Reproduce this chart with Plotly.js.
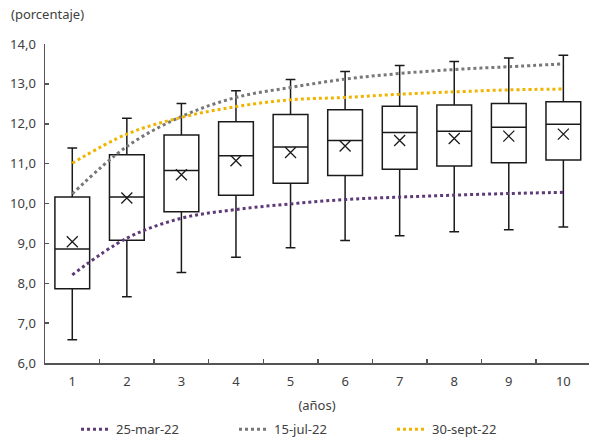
<!DOCTYPE html>
<html>
<head>
<meta charset="utf-8">
<script src="https://cdn.plot.ly/plotly-3.0.1.min.js"></script>
<style>html,body{margin:0;padding:0;background:#fff;}#chart{width:589px;height:439px;}</style>
</head>
<body>
<div id="chart"></div>
<script>
const years = ['1','2','3','4','5','6','7','8','9','10'];
const lowerWhisker = [6.58, 7.66, 8.27, 8.65, 8.89, 9.07, 9.19, 9.29, 9.34, 9.41];
const q1 = [7.86, 9.08, 9.79, 10.21, 10.51, 10.70, 10.86, 10.94, 11.02, 11.09];
const median = [8.86, 10.16, 10.83, 11.20, 11.42, 11.58, 11.78, 11.81, 11.91, 11.99];
const q3 = [10.16, 11.22, 11.72, 12.05, 12.23, 12.35, 12.44, 12.47, 12.51, 12.55];
const upperWhisker = [11.39, 12.14, 12.51, 12.83, 13.11, 13.31, 13.46, 13.56, 13.65, 13.72];
const mean = [9.04, 10.14, 10.72, 11.07, 11.28, 11.44, 11.58, 11.63, 11.69, 11.74];
const curveMar = [8.21, 9.13, 9.63, 9.85, 9.99, 10.10, 10.16, 10.21, 10.25, 10.28];
const curveJul = [10.24, 11.43, 12.18, 12.66, 12.91, 13.12, 13.26, 13.36, 13.43, 13.50];
const curveSep = [11.01, 11.74, 12.16, 12.43, 12.60, 12.66, 12.74, 12.80, 12.85, 12.87];
const curveNames = ['25-mar-22', '15-jul-22', '30-sept-22'];

const txt = '#404040';
const font = {family: 'Noto Sans, sans-serif', size: 13, color: txt};

const traces = [
  {
    type: 'box', x: years, q1: q1, median: median, q3: q3,
    lowerfence: lowerWhisker, upperfence: upperWhisker,
    fillcolor: '#ffffff', line: {color: '#1a1a1a', width: 1.5},
    whiskerwidth: 0.28, showlegend: false, hoverinfo: 'skip'
  },
  {
    type: 'scatter', mode: 'markers', x: years, y: mean, showlegend: false,
    marker: {symbol: 'x-thin-open', size: 11, color: '#1a1a1a', line: {color: '#1a1a1a', width: 1.3}}
  },
  {
    type: 'scatter', mode: 'lines', x: years, y: curveMar, name: curveNames[0],
    line: {color: '#5e3a78', width: 3, dash: 'dot', shape: 'spline'}
  },
  {
    type: 'scatter', mode: 'lines', x: years, y: curveJul, name: curveNames[1],
    line: {color: '#787878', width: 3, dash: 'dot', shape: 'spline'}
  },
  {
    type: 'scatter', mode: 'lines', x: years, y: curveSep, name: curveNames[2],
    line: {color: '#f0b400', width: 3, dash: 'dot', shape: 'spline'}
  }
];

const layout = {
  width: 589, height: 439,
  margin: {l: 45, r: 0, t: 44, b: 76},
  paper_bgcolor: '#ffffff', plot_bgcolor: '#ffffff',
  separators: ',.',
  font: font,
  boxgap: 0.09,
  xaxis: {
    type: 'category', range: [-0.5, 9.47],
    showline: true, linecolor: '#555555', linewidth: 1.5,
    ticks: 'inside', ticklen: 4, tickcolor: '#555555', tickwidth: 1.5,
    tickson: 'boundaries', showgrid: false, zeroline: false,
    ticklabelstandoff: 6,
    tickfont: font,
    title: {text: '(años)', font: font, standoff: 18}
  },
  yaxis: {
    range: [6, 14], dtick: 1, tickformat: '.1f',
    showline: true, linecolor: '#555555', linewidth: 1.5,
    ticks: 'inside', ticklen: 4, tickcolor: '#555555', tickwidth: 1.5,
    showgrid: false, zeroline: false,
    ticklabelstandoff: 5,
    tickfont: font
  },
  legend: {
    orientation: 'h', xref: 'paper', x: 0.057, xanchor: 'left',
    yref: 'container', y: 0.022, yanchor: 'middle',
    font: font, entrywidth: 113, entrywidthmode: 'pixels', bgcolor: 'rgba(0,0,0,0)'
  },
  annotations: [{
    text: '(porcentaje)', xref: 'paper', yref: 'paper', x: -0.067, y: 1.095,
    xanchor: 'left', yanchor: 'middle', showarrow: false, font: font
  }]
};

Plotly.newPlot('chart', traces, layout, {displayModeBar: false, staticPlot: true});
</script>
</body>
</html>
